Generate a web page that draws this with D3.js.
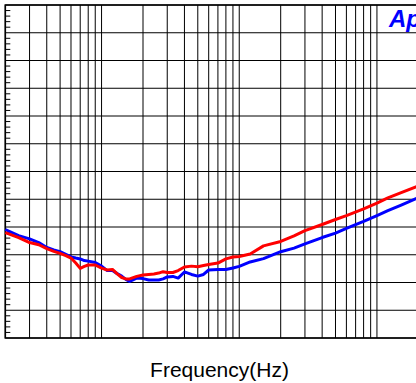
<!DOCTYPE html>
<html>
<head>
<meta charset="utf-8">
<script src="https://cdn.jsdelivr.net/npm/d3@7"></script>
<style>
  html, body { margin: 0; padding: 0; background: #fff; overflow: hidden; }
  svg { display: block; }
</style>
</head>
<body>
<div id="chart"></div>
<script>
// sweep frequencies (Hz), shared by both channels
const freqs = [20, 25, 30, 35, 40, 45, 50, 55, 60, 65, 70, 75, 80, 90, 100, 110, 120, 130, 140, 150,
    160, 180, 200, 220, 240, 260, 280, 300, 330, 360, 400, 450, 500, 550, 600, 700, 800, 900, 1000,
    1200, 1500, 2000, 2500, 3000, 4000, 5000, 6000, 8000, 10000, 12000, 15000, 20000];

// channel B (blue), dB
const blueValues = [-80.9, -83.1, -84.3, -85.6, -87.4, -88.3, -88.9, -89.9, -90.8, -91.2, -91.5, -92.1,
    -92.3, -92.8, -94.1, -95.7, -95.7, -96.8, -97.7, -98.9, -99.6, -98.4, -98.6, -99.1, -99.1, -99.1,
    -98.7, -98.0, -97.8, -98.4, -96.2, -97.1, -97.7, -97.1, -95.5, -95.3, -95.3, -94.8, -94.2, -92.6,
    -91.4, -88.9, -87.6, -86.1, -83.8, -82.2, -80.5, -78.0, -75.9, -74.1, -72.1, -69.4];

// channel A (red), dB
const redValues = [-82.0, -83.8, -85.6, -86.4, -87.8, -88.8, -89.5, -90.3, -91.2, -93.0, -94.9, -94.2,
    -93.7, -93.7, -94.8, -95.5, -95.3, -96.9, -98.2, -98.7, -98.7, -97.8, -97.3, -97.1, -96.9, -96.6,
    -96.1, -96.4, -96.4, -95.7, -94.4, -94.1, -94.3, -93.9, -93.5, -93.0, -91.5, -90.8, -90.6, -89.7,
    -86.8, -85.2, -83.2, -81.3, -79.1, -77.3, -75.9, -73.5, -71.4, -69.5, -67.6, -65.2];

// grid positions
const xGridTicks = [20, 30, 40, 50, 60, 70, 80, 90, 100, 200, 300, 400, 500, 600, 700, 800, 900,
    1000, 2000, 3000, 4000, 5000, 6000, 7000, 8000, 9000, 10000, 20000];
const yMajorTicks = [-120, -110, -100, -90, -80, -70, -60, -50, -40, -30, -20, -10, 0];
const yMinorTicks = d3.range(-118, 0, 2).filter(v => v % 10 !== 0);

const totalW = 416;
const totalH = 383;
const margin = {top: 5, left: 5.3};
const width = 413.1;   // 3 decades
const height = 333;

const svg = d3.select('#chart').append('svg')
    .attr('width', totalW)
    .attr('height', totalH);

const g = svg.append('g')
    .attr('transform', 'translate(' + margin.left + ',' + margin.top + ')');

const x = d3.scaleLog()
    .domain([20, 20000])
    .range([0, width]);

const y = d3.scaleLinear()
    .domain([-120, 0])
    .range([height, 0]);

// vertical grid
g.append('g')
    .attr('class', 'grid x')
    .attr('transform', 'translate(0,' + height + ')')
    .call(d3.axisBottom(x).tickValues(xGridTicks).tickSize(-height).tickFormat('').offset(0))
    .call(s => s.select('.domain').remove())
    .selectAll('line')
    .attr('stroke', '#000')
    .attr('stroke-width', 1);

// horizontal grid
g.append('g')
    .attr('class', 'grid y')
    .call(d3.axisLeft(y).tickValues(yMajorTicks).tickSize(-width).tickFormat('').offset(0))
    .call(s => s.select('.domain').remove())
    .selectAll('line')
    .attr('stroke', '#000')
    .attr('stroke-width', 1);

// small ticks on the left edge
g.append('g')
    .attr('class', 'minor y')
    .call(d3.axisRight(y).tickValues(yMinorTicks).tickSize(5).tickFormat('').offset(0))
    .call(s => s.select('.domain').remove())
    .selectAll('line')
    .attr('stroke', '#000')
    .attr('stroke-width', 1);

// frame
g.append('path')
    .attr('d', 'M' + (width + 4) + ',0H0V' + height + 'H' + (width + 4))
    .attr('fill', 'none')
    .attr('stroke', '#000')
    .attr('stroke-width', 1.6);

const line = d3.line()
    .x(d => x(d[0]))
    .y(d => y(d[1]));

g.append('path')
    .datum(d3.zip(freqs, blueValues))
    .attr('fill', 'none')
    .attr('stroke', '#0000ff')
    .attr('stroke-width', 3)
    .attr('stroke-linejoin', 'round')
    .attr('d', line);

g.append('path')
    .datum(d3.zip(freqs, redValues))
    .attr('fill', 'none')
    .attr('stroke', '#ff0000')
    .attr('stroke-width', 3)
    .attr('stroke-linejoin', 'round')
    .attr('d', line);

// logo (cut by the right edge, as in the original crop)
svg.append('text')
    .attr('x', 389)
    .attr('y', 27)
    .attr('font-family', 'Liberation Sans, Arial, sans-serif')
    .attr('font-size', 24)
    .attr('font-weight', 'bold')
    .attr('font-style', 'italic')
    .attr('fill', '#0000ff')
    .text('Ap');

// axis title
svg.append('text')
    .attr('x', 219.5)
    .attr('y', 377)
    .attr('text-anchor', 'middle')
    .attr('font-family', 'Liberation Sans, Arial, sans-serif')
    .attr('font-size', 21)
    .attr('fill', '#000')
    .text('Frequency(Hz)');
</script>
</body>
</html>
